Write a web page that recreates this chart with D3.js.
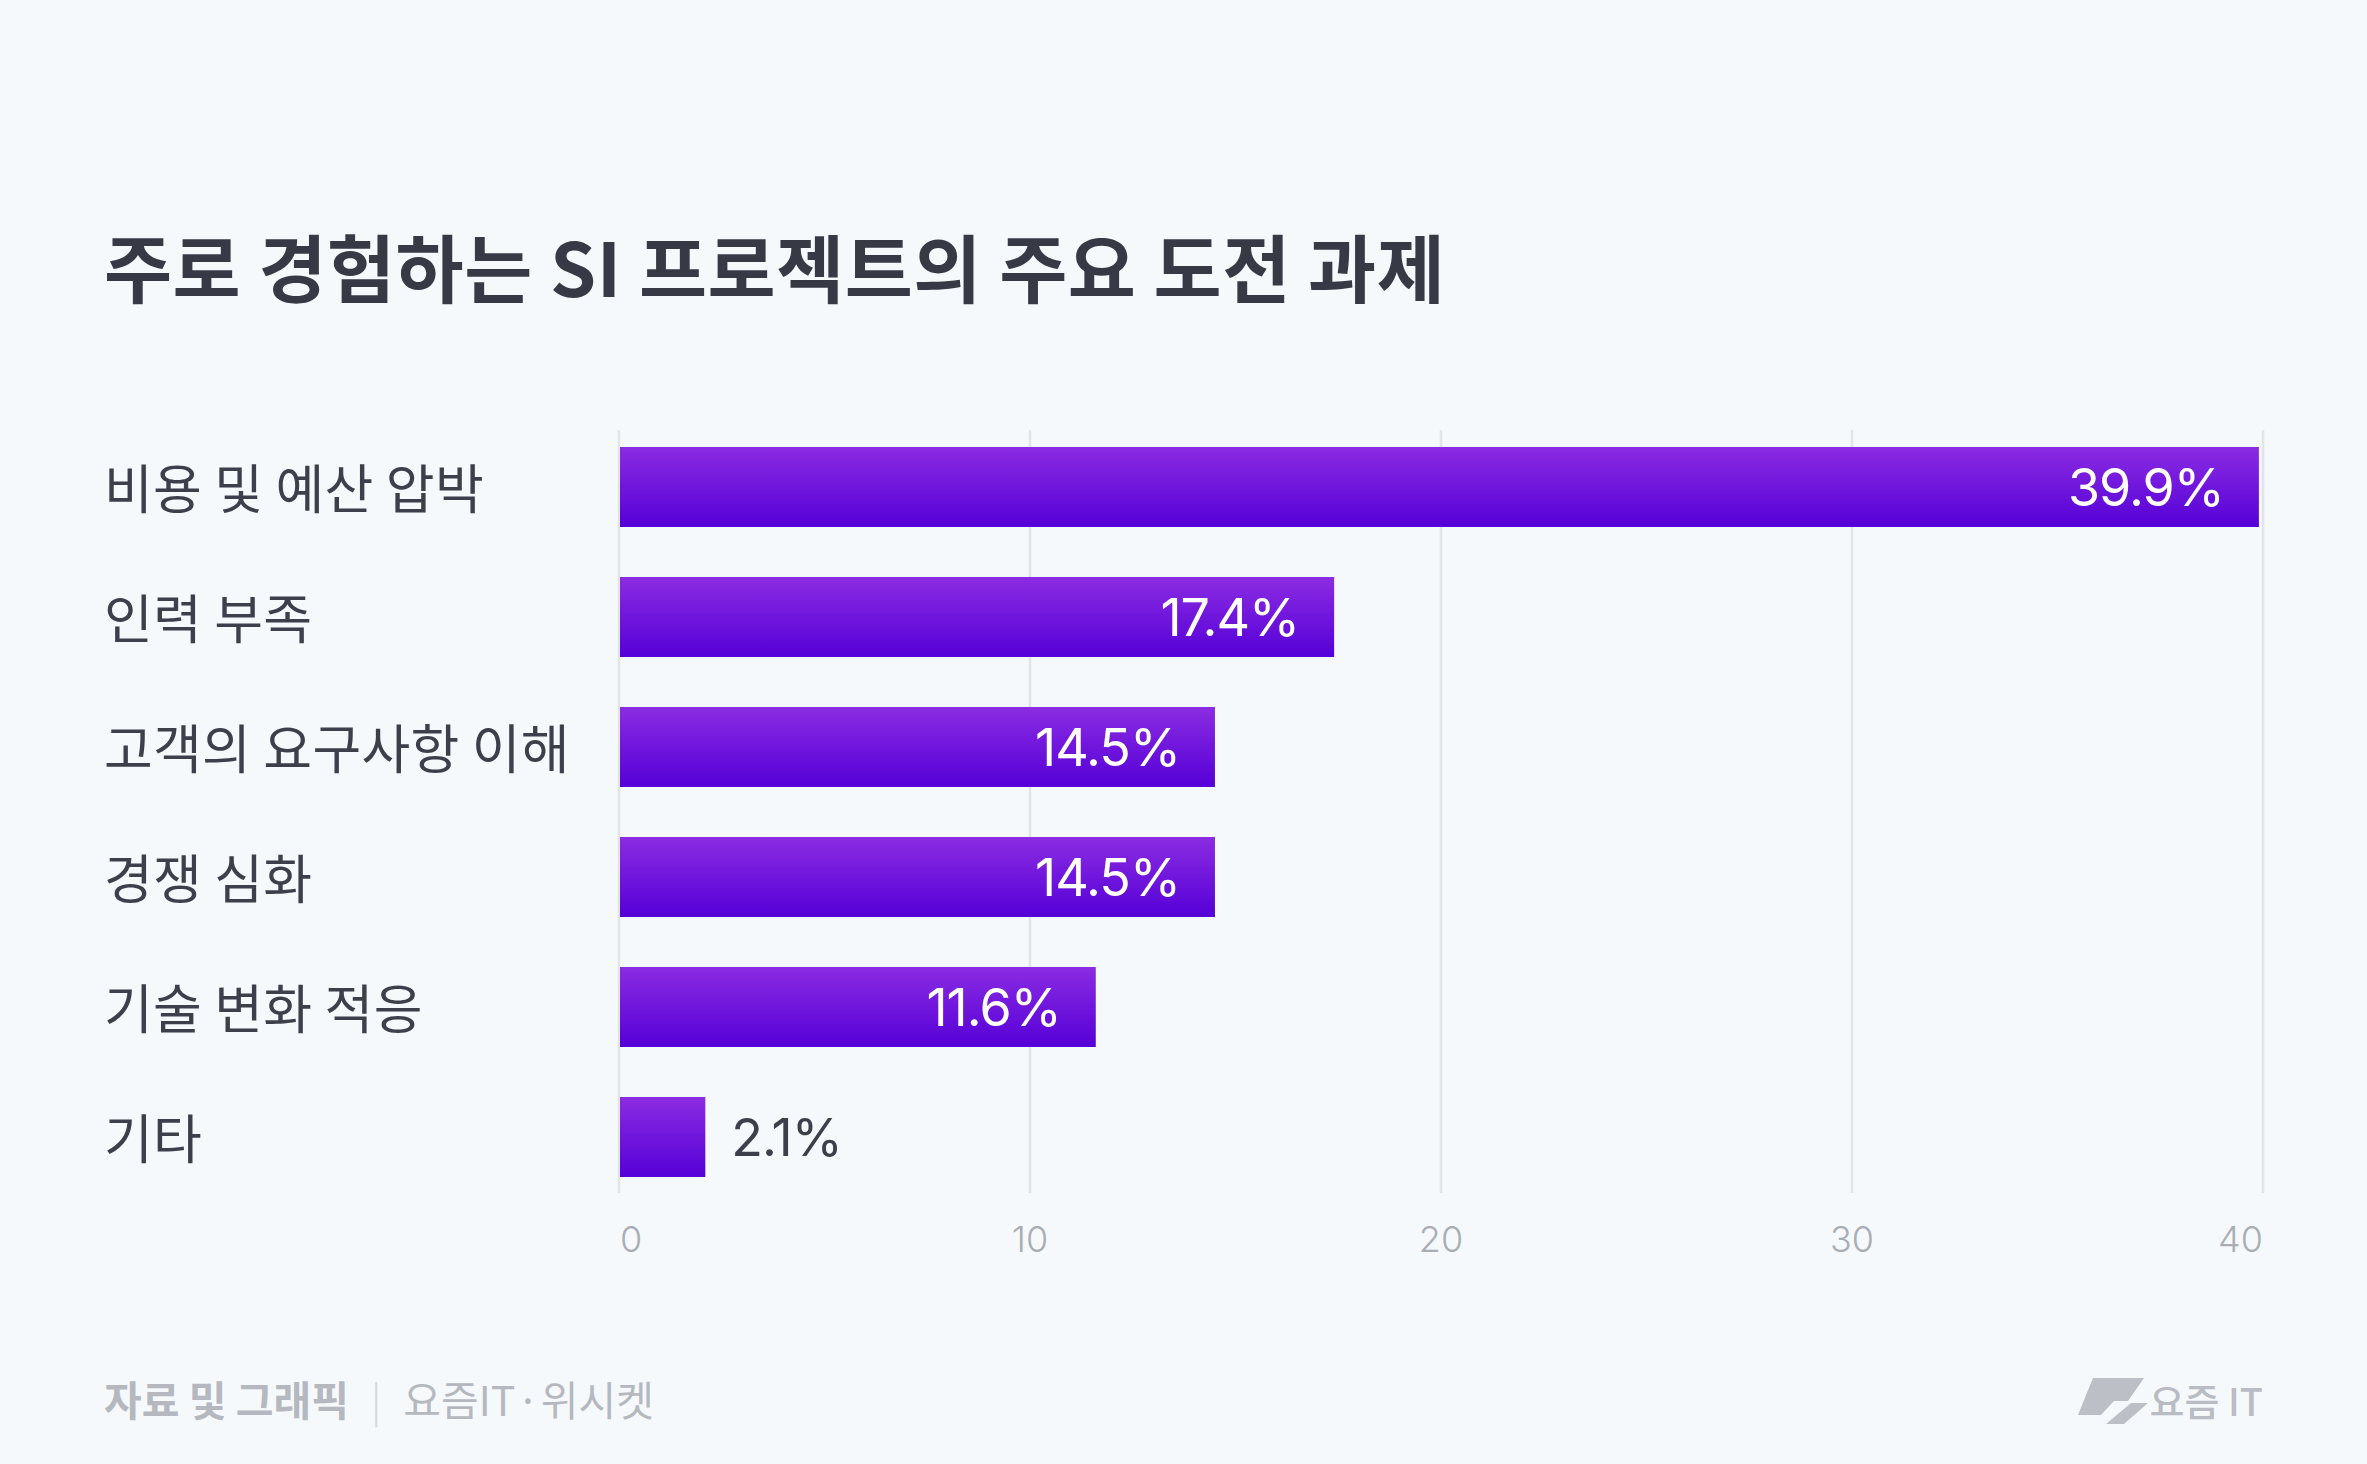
<!DOCTYPE html>
<html><head><meta charset="utf-8">
<script src="https://cdn.jsdelivr.net/npm/d3@7"></script>
<style>
html,body{margin:0;padding:0;background:#f6f9fc;}
svg{display:block;}
</style></head>
<body>
<svg id="chart" width="2367" height="1464"></svg>
<script>
const titleText = "주로 경험하는 SI 프로젝트의 주요 도전 과제";
const categories = ["비용 및 예산 압박","인력 부족","고객의 요구사항 이해","경쟁 심화","기술 변화 적응","기타"];
const values = [39.9, 17.4, 14.5, 14.5, 11.6, 2.1];
const tickValues = [0, 10, 20, 30, 40];
const sourceLabel = "자료 및 그래픽";
const sourceText = "요즘IT · 위시켓";
const brandText = "요즘 IT";

const svg = d3.select("#chart");
const W = 2367, H = 1464;
svg.append("rect").attr("width", W).attr("height", H).attr("fill", "#f6f9fc");

const defs = svg.append("defs");
const grad = defs.append("linearGradient").attr("id","barGrad").attr("x1",0).attr("y1",0).attr("x2",0).attr("y2",1);
grad.append("stop").attr("offset","0%").attr("stop-color","#8b2ce2");
grad.append("stop").attr("offset","100%").attr("stop-color","#5500d7");

const kr = "'Noto Sans CJK KR', 'Noto Sans', sans-serif";
const num = "Inter, 'Noto Sans', sans-serif";

// Title
svg.append("text").attr("x", 104).attr("y", 264)
  .attr("dominant-baseline","central")
  .attr("font-family", kr).attr("font-weight", 700).attr("font-size", 74)
  .attr("letter-spacing", 0.5)
  .attr("fill", "#373a44").text(titleText);

const x = d3.scaleLinear().domain([0, 40]).range([619, 2263]);
const y = d3.scaleBand().domain(categories).range([447, 1177]).paddingInner(50/130).paddingOuter(0);

// gridlines
svg.append("g").selectAll("line").data(tickValues).join("line")
  .attr("x1", d => x(d)).attr("x2", d => x(d))
  .attr("y1", 430).attr("y2", 1193)
  .attr("stroke", "#e1e4e8").attr("stroke-width", 2.5);

// tick labels
svg.append("g").selectAll("text").data(tickValues).join("text")
  .attr("x", (d,i) => i === 0 ? x(d) + 1 : x(d))
  .attr("y", 1239)
  .attr("text-anchor", (d,i) => i === 0 ? "start" : (i === tickValues.length - 1 ? "end" : "middle"))
  .attr("dominant-baseline","central")
  .attr("font-family", num).attr("font-weight", 300).attr("font-size", 36)
  .attr("fill", "#a9adb4").text(d => d);

// bars
svg.append("g").selectAll("rect").data(values).join("rect")
  .attr("x", x(0) + 1).attr("y", (d,i) => y(categories[i]))
  .attr("width", d => x(d) - x(0) - 1).attr("height", y.bandwidth())
  .attr("fill", "url(#barGrad)");

// category labels
svg.append("g").selectAll("text").data(categories).join("text")
  .attr("x", 104).attr("y", d => y(d) + y.bandwidth()/2 - 1)
  .attr("dominant-baseline","central")
  .attr("font-family", kr).attr("font-weight", 400).attr("font-size", 53)
  .attr("letter-spacing", 0.3)
  .attr("fill", "#3d404a").text(d => d);

// value labels
svg.append("g").selectAll("text").data(values).join("text")
  .each(function(d, i) {
    const inside = (x(d) - x(0)) > 200;
    d3.select(this)
      .attr("x", inside ? x(d) - 35 : x(d) + 26)
      .attr("text-anchor", inside ? "end" : "start")
      .attr("fill", inside ? "#ffffff" : "#3d404a");
  })
  .attr("y", (d,i) => y(categories[i]) + y.bandwidth()/2)
  .attr("dominant-baseline","central")
  .attr("font-family", num).attr("font-weight", 400).attr("font-size", 52)
  .attr("letter-spacing", -1)
  .text(d => d + "%");

// footer
const foot = svg.append("text").attr("x", 104).attr("y", 1398)
  .attr("dominant-baseline","central")
  .attr("font-family", kr).attr("font-size", 41).attr("fill", "#b5b8be");
foot.append("tspan").attr("font-weight", 700).text(sourceLabel);
foot.append("tspan").attr("dx", 22).attr("fill", "#d2d5da").attr("font-weight", 300).text("|");
foot.append("tspan").attr("dx", 22).attr("font-weight", 400).attr("word-spacing", -8).text(sourceText);

// brand logo
const lg = svg.append("g").attr("fill", "#bcbfc5");
lg.append("path").attr("d", "M2093,1378 L2144,1378 L2128,1401 L2114,1401 L2101,1415 L2078,1415 Z");
lg.append("path").attr("d", "M2131,1403 L2148,1403 L2124,1424 L2106,1424 Z");
svg.append("text").attr("x", 2263).attr("y", 1399).attr("text-anchor","end")
  .attr("dominant-baseline","central")
  .attr("font-family", kr).attr("font-weight", 500).attr("font-size", 38)
  .attr("fill", "#b9bcc2").text(brandText);
</script>
</body></html>
